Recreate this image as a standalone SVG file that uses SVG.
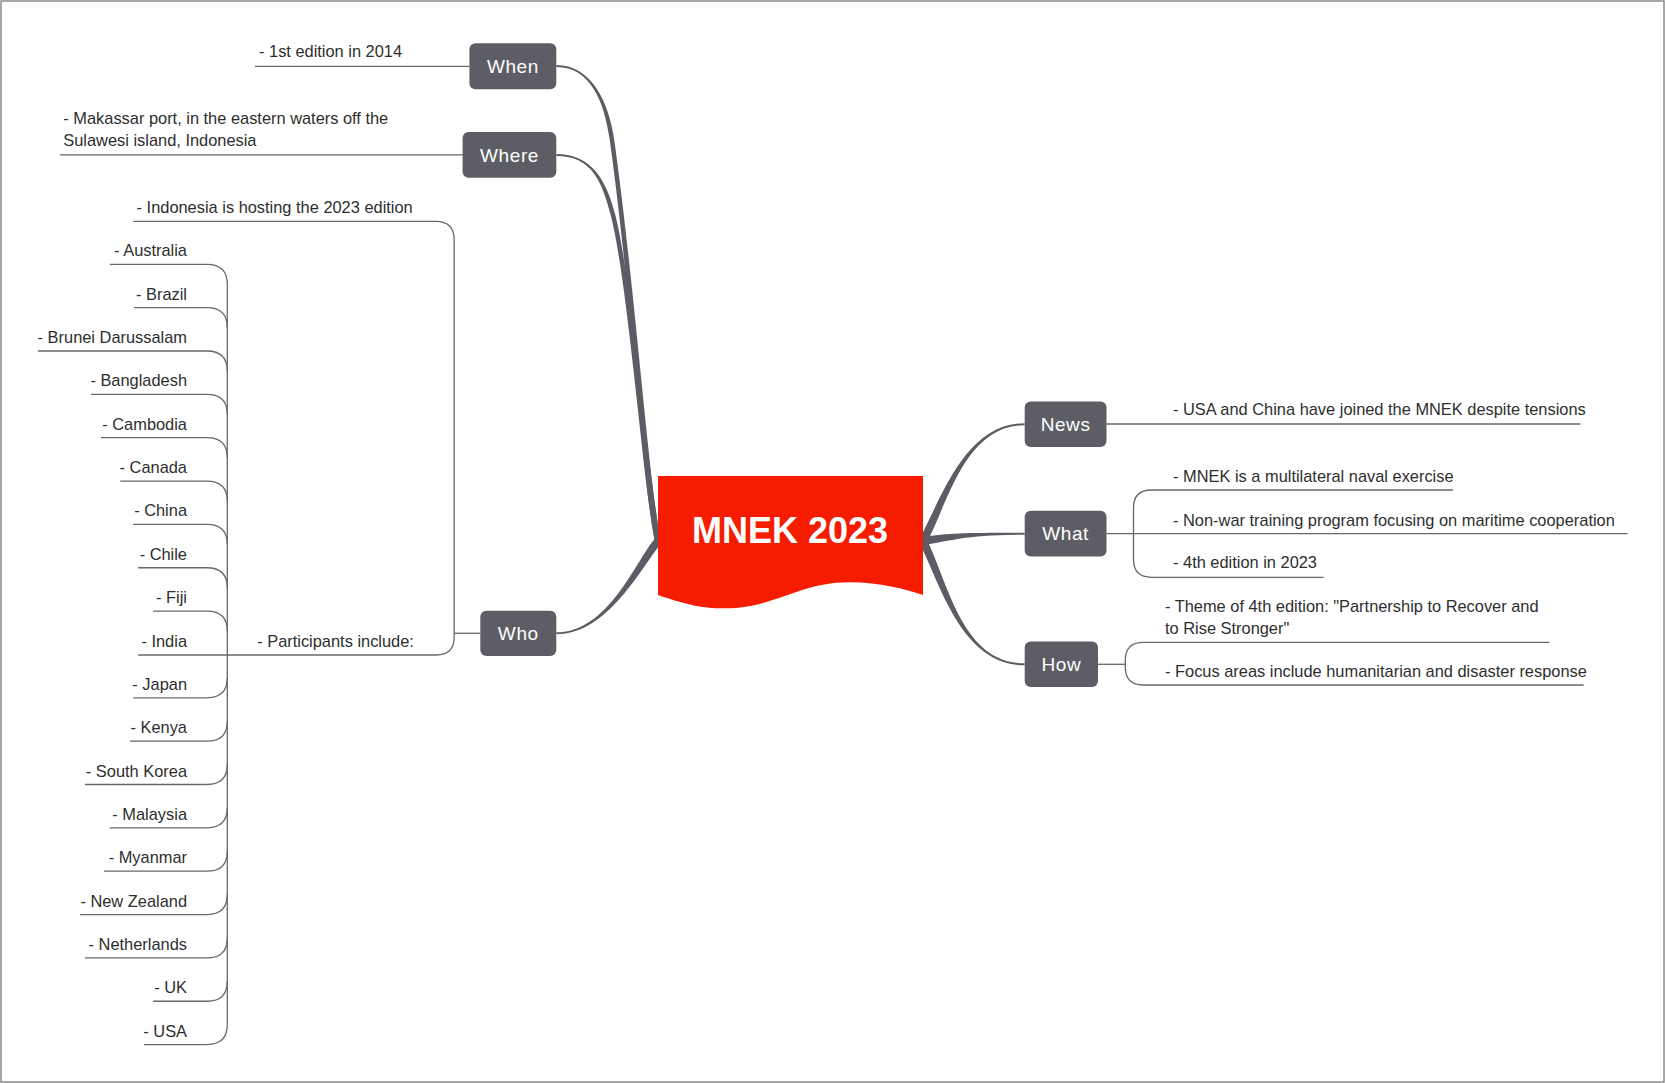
<svg xmlns="http://www.w3.org/2000/svg" width="1665" height="1083" viewBox="0 0 1665 1083">
<style>
.t{font-family:"Liberation Sans",Arial,sans-serif;font-size:16.4px;fill:#2e2e2e}
.te{font-family:"Liberation Sans",Arial,sans-serif;font-size:16.4px;fill:#2e2e2e;text-anchor:end}
.nl{font-family:"Liberation Sans",Arial,sans-serif;font-size:19px;fill:#ffffff;text-anchor:middle;letter-spacing:0.6px}
.box{fill:#5d5e65}
.thin{fill:none;stroke:#67676d;stroke-width:1.3}
.br{fill:#5c5d64}
</style>
<rect x="0" y="0" width="1665" height="1083" fill="#ffffff"/>
<rect x="1" y="1" width="1663" height="1081" fill="none" stroke="#8a8a8a" stroke-width="1.5"/>

<g id="connectors">
  <!-- thick tapered branches -->
  <path class="br" d="M556.4,65 C590,65 608.63,99.69 614.23,139.69 C635.23,289.69 649.43,490.33 660.93,540.33 L655.07,541.67 C643.57,491.67 630.77,290.31 609.77,140.31 C604.17,100.31 590,67 556.4,67 Z"/>
  <path class="br" d="M556.4,154 C592,154 606.43,180.54 615.18,214.44 C632.68,282.24 649.73,491.58 660.93,540.33 L655.07,541.67 C643.87,492.92 628.32,283.36 610.82,215.56 C602.07,181.66 592,156 556.4,156 Z"/>
  <path class="br" d="M556.4,632.3 C608,632.3 634.9,562.4 654.9,538.4 L661.1,543.6 C641.1,567.6 608,634.3 556.4,634.3 Z"/>
  <path class="br" d="M926.5,542.9 C948.5,501.9 965,425.2 1024.7,425.2 L1024.7,423.2 C965,423.2 941.5,498.1 919.5,539.1 Z"/>
  <path class="br" d="M923.6,545 C950.6,541 965,534.7 1024.7,534.7 L1024.7,532.7 C965,532.7 949.4,533 922.4,537 Z"/>
  <path class="br" d="M919.4,542.8 C941.4,586.8 962,665.3 1024.7,665.3 L1024.7,663.3 C962,663.3 948.6,583.2 926.6,539.2 Z"/>

  <!-- left thin lines -->
  <path class="thin" d="M255,66.3 H469.4"/>
  <path class="thin" d="M60,154.9 H462.6"/>
  <path class="thin" d="M133.2,221.3 H436 Q454.2,221.3 454.2,240 V637 Q454.2,655 436,655 H138.2"/>
  <path class="thin" d="M480.3,633.3 H454.2"/>
  <path class="thin" d="M227.3,284.3 V1024.6"/>
  <path class="thin" d="M109.8,264.3 H207 Q227.3,264.3 227.3,284.3"/>
  <path class="thin" d="M134,307.65 H207 Q227.3,307.65 227.3,327.65"/>
  <path class="thin" d="M37.9,351 H207 Q227.3,351 227.3,371"/>
  <path class="thin" d="M91.1,394.35 H207 Q227.3,394.35 227.3,414.35"/>
  <path class="thin" d="M101,437.7 H207 Q227.3,437.7 227.3,457.7"/>
  <path class="thin" d="M120.2,481.05 H207 Q227.3,481.05 227.3,501.05"/>
  <path class="thin" d="M133.2,524.4 H207 Q227.3,524.4 227.3,544.4"/>
  <path class="thin" d="M138.2,567.75 H207 Q227.3,567.75 227.3,587.75"/>
  <path class="thin" d="M153.1,611.1 H207 Q227.3,611.1 227.3,631.1"/>
  <path class="thin" d="M133.2,697.8 H207 Q227.3,697.8 227.3,677.8"/>
  <path class="thin" d="M130.1,741.15 H207 Q227.3,741.15 227.3,721.15"/>
  <path class="thin" d="M85,784.5 H207 Q227.3,784.5 227.3,764.5"/>
  <path class="thin" d="M109.8,827.85 H207 Q227.3,827.85 227.3,807.85"/>
  <path class="thin" d="M104.1,871.2 H207 Q227.3,871.2 227.3,851.2"/>
  <path class="thin" d="M80,914.55 H207 Q227.3,914.55 227.3,894.55"/>
  <path class="thin" d="M85,957.9 H207 Q227.3,957.9 227.3,937.9"/>
  <path class="thin" d="M153.1,1001.25 H207 Q227.3,1001.25 227.3,981.25"/>
  <path class="thin" d="M143.9,1044.6 H207 Q227.3,1044.6 227.3,1024.6"/>

  <!-- right thin lines -->
  <path class="thin" d="M1106.5,424 H1580.3"/>
  <path class="thin" d="M1453,490 H1151.5 Q1133.5,490 1133.5,508 V559.3 Q1133.5,577.3 1151.5,577.3 H1323.6"/>
  <path class="thin" d="M1106.5,533.7 H1627.6"/>
  <path class="thin" d="M1098,664.3 H1125.3"/>
  <path class="thin" d="M1549.4,642.3 H1143.3 Q1125.3,642.3 1125.3,660.3 V667 Q1125.3,685 1143.3,685 H1583.6"/>
</g>

<g id="center">
  <path d="M658,476 H923 V595 C905,589 880,582.5 850,582.3 C800,582 775,608 725,608.3 C705,608.5 690,606 658,595 Z" fill="#f61c00"/>
  <text x="790" y="542.5" font-family="Liberation Sans, Arial, sans-serif" font-size="36" font-weight="bold" fill="#ffffff" text-anchor="middle">MNEK 2023</text>
</g>

<g id="node-when">
  <rect class="box" x="469.4" y="43.3" width="86.9" height="46" rx="6"/>
  <text class="nl" x="512.9" y="73">When</text>
</g>
<g id="node-where">
  <rect class="box" x="462.6" y="132" width="93.7" height="45.7" rx="6"/>
  <text class="nl" x="509.5" y="161.6">Where</text>
</g>
<g id="node-who">
  <rect class="box" x="480.3" y="610.7" width="76" height="45.3" rx="6"/>
  <text class="nl" x="518.3" y="640">Who</text>
</g>
<g id="node-news">
  <rect class="box" x="1024.7" y="401.4" width="81.8" height="45.7" rx="6"/>
  <text class="nl" x="1065.6" y="431">News</text>
</g>
<g id="node-what">
  <rect class="box" x="1024.7" y="510.8" width="81.8" height="45.6" rx="6"/>
  <text class="nl" x="1065.6" y="540.4">What</text>
</g>
<g id="node-how">
  <rect class="box" x="1024.7" y="641.4" width="73.3" height="45.6" rx="6"/>
  <text class="nl" x="1061.4" y="671">How</text>
</g>

<g id="leaf-when"><text class="t" x="259" y="57.3">- 1st edition in 2014</text></g>
<g id="leaf-where">
  <text class="t" x="63.3" y="124">- Makassar port, in the eastern waters off the</text>
  <text class="t" x="63.3" y="146">Sulawesi island, Indonesia</text>
</g>
<g id="leaf-who-host"><text class="t" x="136.6" y="212.7">- Indonesia is hosting the 2023 edition</text></g>
<g id="leaf-who-participants"><text class="t" x="257.2" y="646.7">- Participants include:</text></g>
<g id="countries">
  <text class="te" x="187" y="256.3">- Australia</text>
  <text class="te" x="187" y="299.65">- Brazil</text>
  <text class="te" x="187" y="343">- Brunei Darussalam</text>
  <text class="te" x="187" y="386.35">- Bangladesh</text>
  <text class="te" x="187" y="429.7">- Cambodia</text>
  <text class="te" x="187" y="473.05">- Canada</text>
  <text class="te" x="187" y="516.4">- China</text>
  <text class="te" x="187" y="559.75">- Chile</text>
  <text class="te" x="187" y="603.1">- Fiji</text>
  <text class="te" x="187" y="646.7">- India</text>
  <text class="te" x="187" y="689.8">- Japan</text>
  <text class="te" x="187" y="733.15">- Kenya</text>
  <text class="te" x="187" y="776.5">- South Korea</text>
  <text class="te" x="187" y="819.85">- Malaysia</text>
  <text class="te" x="187" y="863.2">- Myanmar</text>
  <text class="te" x="187" y="906.55">- New Zealand</text>
  <text class="te" x="187" y="949.9">- Netherlands</text>
  <text class="te" x="187" y="993.25">- UK</text>
  <text class="te" x="187" y="1036.6">- USA</text>
</g>

<g id="leaf-news"><text class="t" x="1173" y="415">- USA and China have joined the MNEK despite tensions</text></g>
<g id="leaf-what">
  <text class="t" x="1173" y="481.7">- MNEK is a multilateral naval exercise</text>
  <text class="t" x="1173" y="525.7">- Non-war training program focusing on maritime cooperation</text>
  <text class="t" x="1173" y="568.3">- 4th edition in 2023</text>
</g>
<g id="leaf-how">
  <text class="t" x="1165" y="612.3">- Theme of 4th edition: "Partnership to Recover and</text>
  <text class="t" x="1165" y="634">to Rise Stronger"</text>
  <text class="t" x="1165" y="676.7">- Focus areas include humanitarian and disaster response</text>
</g>
</svg>
